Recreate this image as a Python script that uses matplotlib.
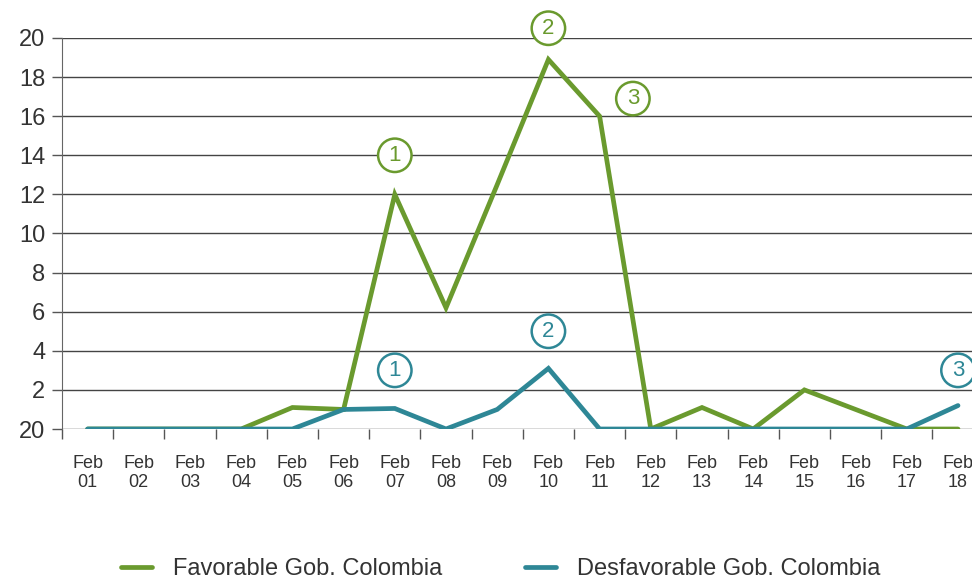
import numpy as np
import matplotlib.pyplot as plt

# data
days = ["01", "02", "03", "04", "05", "06", "07", "08", "09",
        "10", "11", "12", "13", "14", "15", "16", "17", "18"]
favorable = [0, 0, 0, 0, 1.1, 1.0, 12.0, 6.2, 12.5, 18.9, 16.0, 0, 1.1, 0, 2.0, 1.0, 0, 0]
desfavorable = [0, 0, 0, 0, 0, 1.0, 1.05, 0, 1.0, 3.1, 0, 0, 0, 0, 0, 0, 0, 1.2]
y_ticks = [0, 2, 4, 6, 8, 10, 12, 14, 16, 18, 20]
y_labels = ["20", "2", "4", "6", "8", "10", "12", "14", "16", "18", "20"]

green = "#6a9a2e"
blue = "#2e8796"
text_col = "#333333"

plt.rcParams['font.family'] = ['Liberation Sans', 'DejaVu Sans']

fig = plt.figure(figsize=(9.72, 5.78), dpi=100)
ax = fig.add_axes([62 / 972, 149 / 578, 921.6 / 972, 391 / 578])

x = np.arange(len(days))
ax.plot(x, favorable, color=green, lw=3.4, solid_capstyle='round', solid_joinstyle='miter',
        label="Favorable Gob. Colombia", zorder=3)
ax.plot(x, desfavorable, color=blue, lw=3.4, solid_capstyle='round', solid_joinstyle='miter',
        label="Desfavorable Gob. Colombia", zorder=4)

# circled markers
marks = [(6, 14.0, "1", green), (9.0, 20.5, "2", green), (10.65, 16.9, "3", green),
         (6, 3.0, "1", blue), (9.0, 5.0, "2", blue), (17.0, 3.0, "3", blue)]
for mx, my, s, c in marks:
    ax.text(mx, my, s, color=c, fontsize=16, ha='center', va='center', zorder=5,
            clip_on=False,
            bbox=dict(boxstyle='circle,pad=0.28', fc='white', ec=c, lw=1.8))

ax.set_xlim(-0.5, 17.5)
ax.set_ylim(0, 20)
ax.set_yticks(y_ticks)
ax.set_yticklabels(y_labels, fontsize=17, color=text_col)
ax.set_xticks(x)
ax.set_xticklabels(["Feb\n" + d for d in days], fontsize=13, color=text_col,
                   linespacing=1.1)
ax.set_xticks(np.arange(-0.5, 18, 1), minor=True)
ax.tick_params(axis='x', which='major', length=0, pad=19)
ax.tick_params(axis='x', which='minor', length=7, color="#555555", width=1)
ax.tick_params(axis='y', length=7, color="#555555", width=1, pad=5)
ax.yaxis.grid(True, color="#444444", lw=1)
ax.set_axisbelow(True)
for s in ["top", "right", "bottom"]:
    ax.spines[s].set_visible(False)
ax.spines["left"].set_color("#666666")
ax.spines["left"].set_bounds(0, 20)

fig.legend(loc='lower center', bbox_to_anchor=(0.515, -0.04), ncol=2, frameon=False,
           fontsize=17, handlelength=1.3, handletextpad=0.9, columnspacing=3.5,
           labelcolor=text_col)

fig.savefig("out.png", dpi=100)
